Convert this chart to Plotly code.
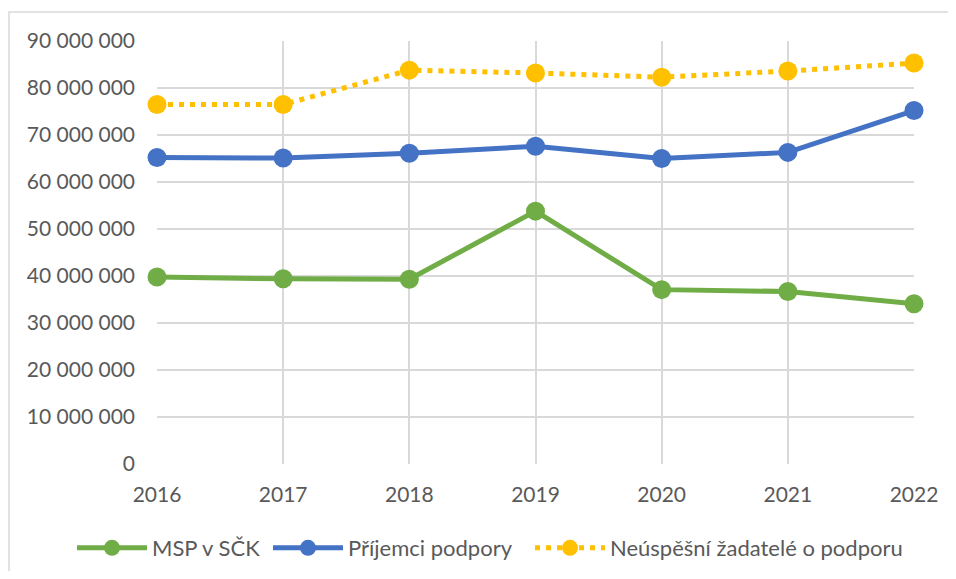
import plotly.graph_objects as go

years = ["2016", "2017", "2018", "2019", "2020", "2021", "2022"]
msp = [39.8e6, 39.4e6, 39.3e6, 53.8e6, 37.1e6, 36.7e6, 34.1e6]
prijemci = [65.2e6, 65.1e6, 66.1e6, 67.6e6, 65.0e6, 66.3e6, 75.2e6]
neuspesni = [76.5e6, 76.5e6, 83.8e6, 83.2e6, 82.3e6, 83.6e6, 85.3e6]
y_ticks = [0, 10e6, 20e6, 30e6, 40e6, 50e6, 60e6, 70e6, 80e6, 90e6]

# page has 8px body margin; figure is drawn from (8, 8)
OFF = 8
W, H = 956 - 2 * OFF, 579 - 2 * OFF
L, T = 157 - OFF, 41 - OFF
pw, ph = 914 - 157, 464 - 41
R, B = W - L - pw, H - T - ph

FONT = "Lato"
TXT = "#595959"
GRID = "#D9D9D9"

fig = go.Figure()
fig.add_trace(go.Scatter(
    x=years, y=msp, name="MSP v SČK", mode="lines+markers",
    line=dict(color="#70AD47", width=5), legend="legend",
    marker=dict(size=19, color="#70AD47"), cliponaxis=False))
fig.add_trace(go.Scatter(
    x=years, y=prijemci, name="Příjemci podpory", mode="lines+markers",
    line=dict(color="#4472C4", width=5), legend="legend2",
    marker=dict(size=19, color="#4472C4"), cliponaxis=False))
fig.add_trace(go.Scatter(
    x=years, y=neuspesni, name="Neúspěšní žadatelé o podporu", mode="lines+markers",
    line=dict(color="#FFC000", width=5, dash="5px,6px"), legend="legend3",
    marker=dict(size=19, color="#FFC000"), cliponaxis=False))

def px_x(x):
    return (x - OFF - L) / pw

def px_y(y):
    return 1 - (y - OFF - T) / ph

fig.add_shape(type="rect", xref="paper", yref="paper",
              x0=px_x(9), x1=px_x(990), y0=px_y(600), y1=px_y(12),
              line=dict(color="#D9D9D9", width=1.5), fillcolor="rgba(0,0,0,0)",
              layer="below")

def legend_at(sym_x):
    return dict(orientation="h", xref="container", yref="container",
                x=(sym_x - 5 - OFF) / W, xanchor="left",
                y=1 - (548 - OFF) / H, yanchor="middle",
                font=dict(family=FONT, size=22, color=TXT),
                itemwidth=70, bgcolor="rgba(0,0,0,0)")

fig.update_layout(
    width=W, height=H,
    margin=dict(l=L, r=R, t=T, b=B, autoexpand=False),
    paper_bgcolor="white", plot_bgcolor="white",
    separators=", ",
    font=dict(family=FONT, size=21, color=TXT),
    showlegend=True,
    legend=legend_at(77),
    legend2=legend_at(273),
    legend3=legend_at(535),
    xaxis=dict(type="category", range=[0, 6], showgrid=True, gridcolor=GRID,
               gridwidth=1.5, zeroline=False, showline=False, ticks="",
               ticklabelstandoff=16, tickfont=dict(family=FONT, size=21, color=TXT)),
    yaxis=dict(range=[0, 90e6], tickvals=y_ticks, tickformat=",d",
               showgrid=True, gridcolor=GRID, gridwidth=1.5, zeroline=False,
               showline=False, ticks="", ticklabelstandoff=21,
               tickfont=dict(family=FONT, size=21, color=TXT)),
)

fig.write_html("out.html")
